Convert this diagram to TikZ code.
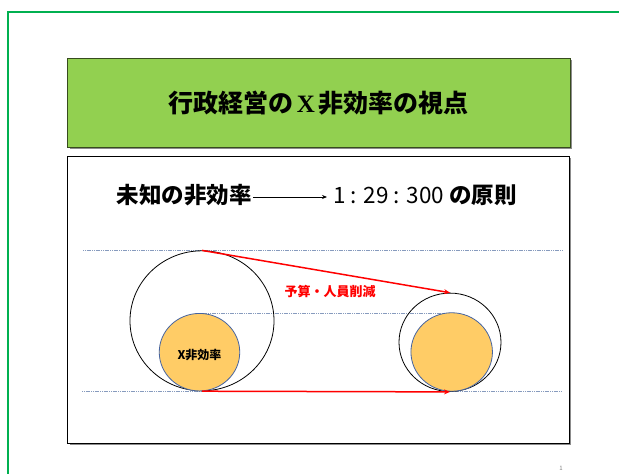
\documentclass[tikz,border=0pt]{standalone}
\usepackage{fontspec}
\newfontfamily\jp{Noto Sans CJK JP}
\newfontfamily\serifx{Liberation Serif}
\usetikzlibrary{shapes.geometric,arrows.meta}
\definecolor{framegreen}{RGB}{0,176,80}
\definecolor{titlegreen}{RGB}{146,208,80}
\definecolor{titleborder}{RGB}{55,75,30}
\definecolor{guide}{RGB}{135,155,190}
\definecolor{orangefill}{RGB}{255,204,102}
\definecolor{orangeborder}{RGB}{70,100,160}
\definecolor{redline}{RGB}{255,0,0}
\tikzset{
  shadowbox/.style={fill=black!45},
  guideline/.style={draw=guide, line width=0.8pt, dash pattern=on 1.2pt off 0.6pt},
  outercirc/.style={ellipse, draw=black, line width=0.8pt, inner sep=0pt},
  innercirc/.style={ellipse, draw=orangeborder, fill=orangefill, line width=0.8pt, inner sep=0pt},
  redarrow/.style={draw=redline, line width=1.5pt, -{Stealth[length=6pt,width=5pt]}},
  slideframe/.style={fill=framegreen},
}
\begin{document}
\begin{tikzpicture}[x=1pt,y=-1pt]
\useasboundingbox (0,0) rectangle (619,474);
\fill[white] (0,0) rectangle (619,474);
% slide frame (two thin green bars)
\fill[slideframe] (6.5,10.5) rectangle (8.7,480);
\fill[slideframe] (6.5,10.5) rectangle (625,12.7);
% title box
\fill[shadowbox] (69.5,60) rectangle (572,149);
\filldraw[fill=titlegreen, draw=titleborder, line width=0.9pt] (67.7,58) rectangle (570,147);
\node[font=\jp\bfseries\fontsize{25}{30}\selectfont, anchor=center] (title) at (318.5,103)
  {行政経営の\hspace{3pt}{\serifx\bfseries X}\hspace{3pt}非効率の視点};
% content box
\fill[shadowbox] (69.5,158) rectangle (571,445);
\filldraw[fill=white, draw=black, line width=0.8pt] (67.7,156) rectangle (569,443);
% headline
\node[font=\jp\bfseries\fontsize{22.5}{27}\selectfont, anchor=east, inner sep=0pt] (unknown) at (252,195) {未知の非効率};
\node[font=\jp\fontsize{22.5}{27}\selectfont, anchor=west, inner sep=0pt] (rule) at (333,195)
  {1 : 29 : 300 \textbf{の原則}};
\draw[line width=0.8pt, -{Stealth[length=5pt,width=4pt]}, shorten >=6pt] (unknown.east) ++(1,2) coordinate (a0) -- (a0 -| rule.west) coordinate (a1);
% guide lines
\coordinate (gt1) at (83,250);
\coordinate (gt2) at (563,250);
\coordinate (gb1) at (82,391);
\coordinate (gb2) at (561,391);
\coordinate (gm1) at (199,313);
\coordinate (gm2) at (453,313);
\draw[guideline] (gt1) -- (gt2);
\draw[guideline] (gb1) -- (gb2);
\draw[guideline] (gm1) -- (gm2);
% circles
\node[outercirc, minimum width=144pt, minimum height=140pt] (bigL) at (202,320.8) {};
\node[innercirc, minimum width=80.5pt, minimum height=77.5pt] (incL) at (199.5,352.2) {};
\node[font=\jp\bfseries\fontsize{12}{14}\selectfont] (xlabel) at (199.5,355) {X非効率};
\node[outercirc, minimum width=102pt, minimum height=98.4pt] (bigR) at (450,342.3) {};
\node[innercirc, minimum width=81.5pt, minimum height=78.5pt] (incR) at (451.7,352) {};
% red arrows
\draw[redarrow] (bigL.north) -- (bigR.north);
\draw[redarrow] (bigL.south) -- (bigR.south);
\node[font=\jp\bfseries\fontsize{13}{15}\selectfont, text=redline] (cut) at (330,292) {予算・人員削減};
% page number
\node[font=\jp\fontsize{6}{7}\selectfont, text=black!50] (pnum) at (561,468) {1};
\end{tikzpicture}
\end{document}
